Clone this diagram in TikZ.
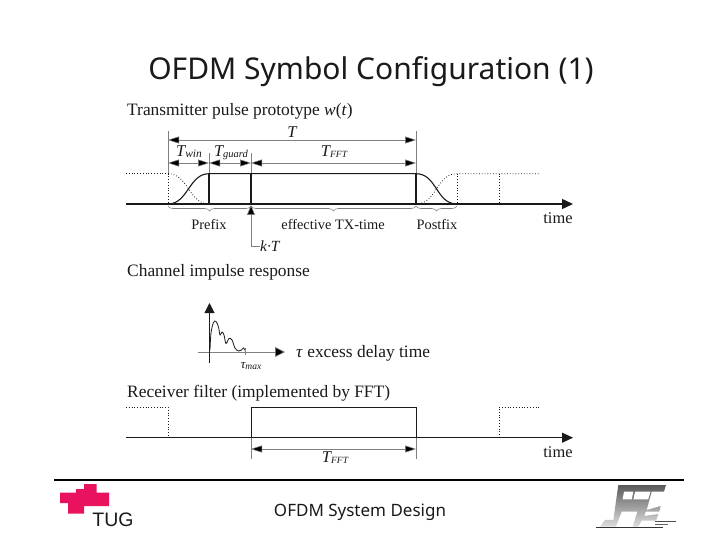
\documentclass[tikz,border=0pt]{standalone}
\usepackage{fontspec}
\setmainfont{Liberation Serif}
\newfontfamily\titlefont{Noto Sans}
\newfontfamily\tugfont{Liberation Sans}
\usetikzlibrary{arrows.meta,decorations.pathreplacing}
\definecolor{ink}{HTML}{1A1A1A}
\definecolor{tugpink}{HTML}{E8125F}
\newcommand{\lowsub}[2]{\raisebox{-1.5pt}{\fontsize{#1}{#1}\selectfont\itshape #2}}
\tikzset{
  lbl/.style={inner sep=0pt,anchor=west,font=\fontsize{17.4}{19}\selectfont,text=ink},
  small/.style={inner sep=0pt,font=\fontsize{14.4}{16}\selectfont,text=ink},
  sym/.style={inner sep=0pt,anchor=base,font=\fontsize{16.5}{18}\selectfont\itshape,text=ink},
  axisline/.style={line width=1.4pt,ink,-{Triangle[length=11pt,width=10pt]}},
  dim/.style={gray,line width=.5pt,{Triangle[length=11pt,width=7pt,fill=black]}-{Triangle[length=11pt,width=7pt,fill=black]}},
  guide/.style={gray,line width=.6pt},
  pulse/.style={line width=1.1pt,ink},
  ghost/.style={line width=.8pt,dotted,ink},
  bracem/.style={gray,line width=.6pt,decorate,decoration={brace,amplitude=5pt}}
}
\begin{document}
\begin{tikzpicture}[x=1pt,y=-1pt]
\useasboundingbox[fill=white] (0,0) rectangle (720,540);
% title
\node[inner sep=0pt,font=\titlefont\fontsize{30}{33}\selectfont,text=ink] (title) at (371,72) {OFDM Symbol Configuration (1)};
% section labels
\node[lbl] (l1) at (127,111) {Transmitter pulse prototype \textit{w}(\textit{t})};
\node[lbl] (l2) at (127,272) {Channel impulse response};
\node[lbl] (l3) at (127,393) {Receiver filter (implemented by FFT)};
% tx coordinates
\coordinate (a0) at (126,204); \coordinate (a1) at (573,204);
\coordinate (x1b) at (168,204); \coordinate (x1t) at (168,173.7);
\coordinate (x2b) at (209,204); \coordinate (x2t) at (209,173.7);
\coordinate (x3b) at (251,204); \coordinate (x3t) at (251,173.7);
\coordinate (x4b) at (416,204); \coordinate (x4t) at (416,173.7);
\coordinate (x5b) at (457,204); \coordinate (x5t) at (457,173.7);
\coordinate (x6b) at (499,204); \coordinate (x6t) at (499,173.7);
\coordinate (g0) at (126,173.7); \coordinate (g1) at (540,173.7);
% guides
\coordinate (d1) at (168,131); \coordinate (d4) at (416,131);
\coordinate (d2) at (209,153); \coordinate (d3) at (251,153);
\draw[guide] (d1) -- (x1t); \draw[guide] (d4) -- (x4t);
\draw[guide] (d2) -- (x2t); \draw[guide] (d3) -- (x3t);
% ghost pulses
\draw[ghost] (g0) -- (x1t) -- (x1b);
\draw[ghost] (x1t) .. controls (188,173.7) and (189,204) .. (x2b);
\draw[ghost] (x4b) .. controls (437,204) and (436,173.7) .. (x5t) -- (g1);
\draw[ghost] (x5t) -- (x5b);
\draw[ghost] (x6t) -- (x6b);
% main pulse
\draw[pulse] (x1b) .. controls (188,204) and (189,173.7) .. (x2t) -- (x4t) .. controls (437,173.7) and (436,204) .. (x5b);
\draw[pulse] (x2t) -- (x2b);
\draw[pulse] (x3t) -- (x3b);
\draw[pulse] (x4t) -- (x4b);
\draw[axisline] (a0) -- (a1);
\node[inner sep=0pt,font=\fontsize{16.4}{18}\selectfont,text=ink] (t1) at (558,218.5) {time};
% dimension arrows
\coordinate (T0) at (168,140); \coordinate (T1) at (416,140);
\draw[dim] (T0) -- (T1);
\node[sym] (Tt) at (292,138) {T};
\coordinate (w0) at (168,163); \coordinate (w1) at (209,163); \coordinate (w2) at (251,163); \coordinate (w3) at (416,163);
\draw[dim] (w0) -- (w1); \draw[dim] (w1) -- (w2); \draw[dim] (w2) -- (w3);
\node[sym] (Tw) at (189,156.5) {T\lowsub{11.5}{win}};
\node[sym] (Tg) at (231,156.5) {T\lowsub{10.5}{guard}};
\node[sym] (Tf) at (334,156.5) {T\lowsub{9.5}{FFT}};
% braces
\coordinate (b0) at (168,206); \coordinate (b1) at (251,206); \coordinate (b2) at (416,206); \coordinate (b3) at (457,206);
\draw[bracem] (b1) -- (b0);
\draw[bracem] (b2) -- (b1);
\draw[bracem] (b3) -- (b2);
\node[small] (pf) at (209,225) {Prefix};
\node[small] (ef) at (333,225) {effective TX-time};
\node[small] (po) at (437,225) {Postfix};
% kT
\coordinate (k0) at (251,205); \coordinate (k1) at (251,246); \coordinate (k2) at (260,246);
\draw[gray,line width=.6pt,{Triangle[length=10pt,width=8pt,fill=black]}-] (k0) -- (k1) -- (k2);
\node[sym,anchor=west,font=\fontsize{15.5}{17}\selectfont\itshape] (kt) at (260,246) {k\textperiodcentered T};
% channel
\coordinate (c0) at (198,352); \coordinate (c1) at (285,352);
\coordinate (v0) at (209.5,363); \coordinate (v1) at (209.5,303);
\draw[gray,line width=.7pt,-{Triangle[length=10pt,width=10pt,fill=black]}] (c0) -- (c1);
\draw[ink,line width=1pt,-{Triangle[length=10pt,width=10pt]}] (v0) -- (v1);
\draw[ink,line width=.8pt,smooth,tension=.6] plot coordinates {(210,350) (211,333) (213.5,322.5) (216,321.5) (218.5,327) (220,335) (222,332) (224,335) (226,343.5) (229,338.5) (232,340) (235,348) (238.5,351) (241.5,350) (243.5,348) (245.5,351)};
\coordinate (tm0) at (245.5,348); \coordinate (tm1) at (245.5,355);
\draw[gray,line width=.5pt] (tm0) -- (tm1);
\node[inner sep=0pt,anchor=base,font=\fontsize{13}{15}\selectfont\itshape,text=ink] (tm) at (251,368) {τ\lowsub{9.5}{max}};
\node[lbl] (tx) at (296,353.5) {\textit{τ} excess delay time};
% receiver
\coordinate (r0) at (126,437.7); \coordinate (r1) at (573,437.7);
\coordinate (ra) at (168,437.7); \coordinate (rat) at (168,407); \coordinate (rg0) at (126,407);
\coordinate (rb) at (251,437.7); \coordinate (rbt) at (251,407);
\coordinate (rc) at (416,437.7); \coordinate (rct) at (416,407);
\coordinate (rd) at (499,437.7); \coordinate (rdt) at (499,407); \coordinate (rg1) at (540,407);
\draw[ghost] (rg0) -- (rat) -- (ra);
\draw[ghost] (rd) -- (rdt) -- (rg1);
\draw[ink,line width=.9pt] (rb) -- (rbt) -- (rct) -- (rc);
\draw[axisline,line width=1pt] (r0) -- (r1);
\coordinate (rv0) at (251,459); \coordinate (rv1) at (416,459);
\draw[guide] (rb) -- (rv0); \draw[guide] (rc) -- (rv1);
\coordinate (rf0) at (251,449); \coordinate (rf1) at (416,449);
\draw[dim] (rf0) -- (rf1);
\node[sym] (Tf2) at (335,462) {T\lowsub{9.5}{FFT}};
\node[inner sep=0pt,font=\fontsize{16.4}{18}\selectfont,text=ink] (t2) at (558,452.5) {time};
% footer
\coordinate (f0) at (54,480); \coordinate (f1) at (684,480);
\draw[black,line width=2.6pt] (f0) -- (f1);
\node[inner sep=0pt,font=\titlefont\fontsize{17}{19}\selectfont,text=ink] (fd) at (360,512) {OFDM System Design};
% TUG logo
\fill[tugpink] (60,492.7) -- (76,492.7) -- (76,489) -- (84,489) -- (84,484) -- (96.5,484) -- (96.5,492.7) -- (109,492.7) -- (109,506) -- (84,506) -- (84,513.5) -- (68,513.5) -- (68,503) -- (60,503) -- cycle;
\node[inner sep=0pt,font=\tugfont\fontsize{19.5}{22}\selectfont,text=ink] (tug) at (113,520) {TUG};
% right logo
\begin{scope}[shift={(580,470)},x=.3333pt,y=-.3333pt]
\begin{scope}
\clip (115,45) -- (258,45) -- (252,65) -- (165,65) -- (160,88) -- (205,88) -- (212,65) -- (215,65) -- (200,120) -- (242,108) -- (238,125) -- (197,125) -- (193,138) -- (235,132) -- (228,152) -- (185,152) -- (175,170) -- (158,170) -- (172,125) -- (125,125) -- (108,170) -- (60,170) -- (75,150) -- (100,150) -- cycle;
\shade[top color=black!65,bottom color=black!12] (50,45) rectangle (270,172);
\fill[white] (132,65) -- (160,65) -- (155,88) -- (128,88) -- cycle;
\end{scope}
\draw[black!80,line width=.7pt] (48,172) -- (250,172);
\draw[black!70,line width=.8pt] (225,155) -- (288,155);
\draw[black!60,line width=.7pt] (225,163) -- (265,163);
\end{scope}
\end{tikzpicture}
\end{document}
